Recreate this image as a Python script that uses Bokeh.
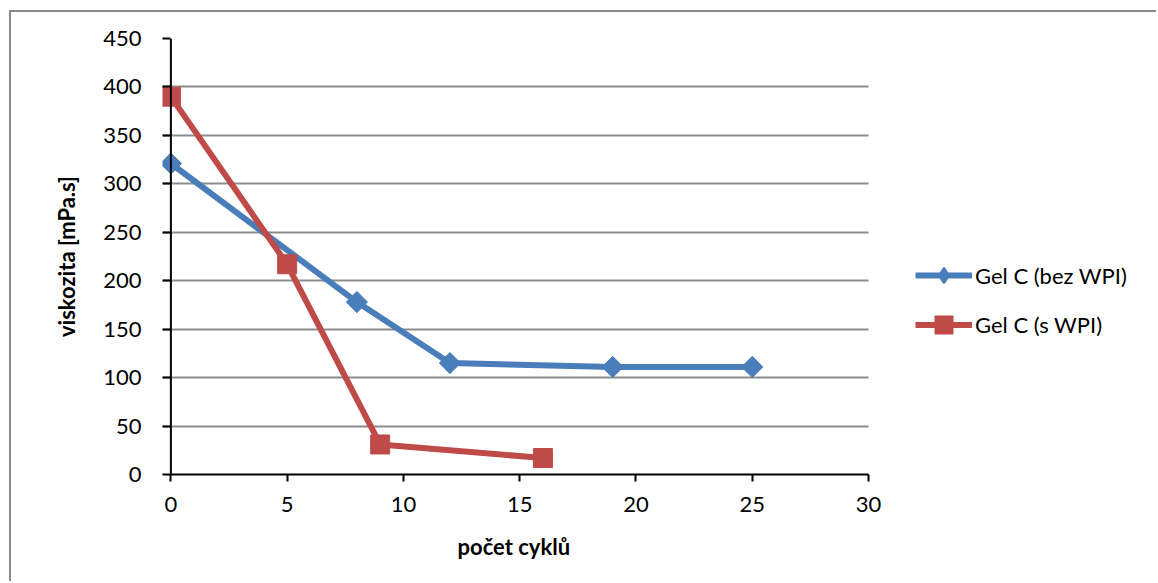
import math
from bokeh.plotting import figure
from bokeh.models import (Range1d, SingleIntervalTicker, Legend, LegendItem, Span,
                          BoxAnnotation, Title)
from bokeh.embed import file_html
from bokeh.resources import INLINE

# Viscosity of gel C over freeze-thaw cycles
cycles_bez = [0, 8, 12, 19, 25]
visc_bez = [321, 178, 115, 111, 111]
cycles_s = [0, 5, 9, 16]
visc_s = [390, 217, 31, 17]
series_names = ["Gel C (bez WPI)", "Gel C (s WPI)"]
x_label = "počet cyklů"
y_label = "viskozita [mPa.s]"
x_max = 30
y_max = 450

BLUE = "#4a7ebb"
RED = "#be4b48"
FONT = "Lato"

# layout in pixels: plot area of 706 px for x in [-0.36, 30], the frame
# continues to the right edge to hold the legend
W, H = 1147, 571
LEFT, TOP, BOTTOM = 151, 26, 109
x_start = -0.36
data_px = 706
x_end = x_start + (x_max - x_start) * (W - LEFT) / data_px

p = figure(width=W, height=H, output_backend="svg", toolbar_location=None,
           x_range=Range1d(x_start, x_end), y_range=Range1d(0, y_max),
           min_border_left=LEFT, min_border_right=0,
           min_border_top=TOP, min_border_bottom=BOTTOM)
p.margin = (10, 0, 0, 9)
p.styles = {"border-left": "2px solid #8a8a8a", "border-top": "2px solid #8a8a8a"}
p.outline_line_color = None
p.background_fill_color = "white"
p.border_fill_color = "white"

p.xgrid.visible = False
p.ygrid.grid_line_color = "#8c8c8c"
p.ygrid.grid_line_width = 1.8
p.ygrid.ticker = SingleIntervalTicker(interval=50)

for ax in (p.xaxis[0], p.yaxis[0]):
    ax.axis_line_color = "black"
    ax.axis_line_width = 2
    ax.major_tick_line_color = "black"
    ax.major_tick_line_width = 2
    ax.minor_tick_line_color = None
    ax.major_label_text_font = FONT
    ax.major_label_text_font_size = "22px"
    ax.major_label_text_color = "black"
    ax.axis_label_text_font = FONT
    ax.axis_label_text_font_size = "22px"
    ax.axis_label_text_font_style = "bold"
    ax.axis_label_text_color = "black"

p.xaxis.ticker = SingleIntervalTicker(interval=5)
p.xaxis.bounds = (0, x_max)
p.yaxis.ticker = SingleIntervalTicker(interval=50)
p.xaxis.major_tick_in = 0
p.xaxis.major_tick_out = 7
p.yaxis.major_tick_in = 8
p.yaxis.major_tick_out = 0
p.yaxis.axis_line_color = None
p.xaxis.major_label_standoff = 15
p.yaxis.major_label_standoff = 17
p.yaxis.axis_label = y_label
p.yaxis.axis_label_standoff = 20

# x axis title, placed under the data area rather than the whole frame
p.add_layout(Title(text=x_label, align="left", offset=295, standoff=32,
                   text_font=FONT, text_font_size="22px", text_font_style="bold",
                   text_color="black"), "below")

# vertical axis line drawn at x = 0
p.add_layout(Span(location=0, dimension="height", line_color="black", line_width=2))
# blank out the grid to the right of the last x value
p.add_layout(BoxAnnotation(left=x_max, fill_color="white", fill_alpha=1,
                           line_color=None, level="underlay"))

l1 = p.line(cycles_bez, visc_bez, line_color=BLUE, line_width=6)
# small diamonds under the blue markers; they give the legend its diamond swatch
m1_key = p.scatter(cycles_bez, visc_bez, marker="diamond", size=12,
                   fill_color=BLUE, line_color=BLUE, line_width=2)
m1 = p.scatter(cycles_bez, visc_bez, marker="square", angle=math.pi / 4, size=15,
               fill_color=BLUE, line_color=BLUE, line_width=1)
l2 = p.line(cycles_s, visc_s, line_color=RED, line_width=6)
m2 = p.scatter(cycles_s, visc_s, marker="square", size=19,
               fill_color=RED, line_color=RED, line_width=1)

# one legend per series so each keeps its own marker size
legend_style = dict(orientation="vertical", glyph_width=57, label_standoff=3,
                    padding=0, margin=0, border_line_color=None,
                    background_fill_alpha=0, label_text_font=FONT,
                    label_text_font_size="22px", label_text_color="black")
leg_bez = Legend(items=[LegendItem(label=series_names[0], renderers=[l1, m1_key])],
                 location=(753, 180), glyph_height=38, **legend_style)
leg_s = Legend(items=[LegendItem(label=series_names[1], renderers=[l2, m2])],
               location=(753, 127), glyph_height=45, **legend_style)
p.add_layout(leg_bez, "center")
p.add_layout(leg_s, "center")

open("out.html", "w").write(file_html(p, INLINE))
